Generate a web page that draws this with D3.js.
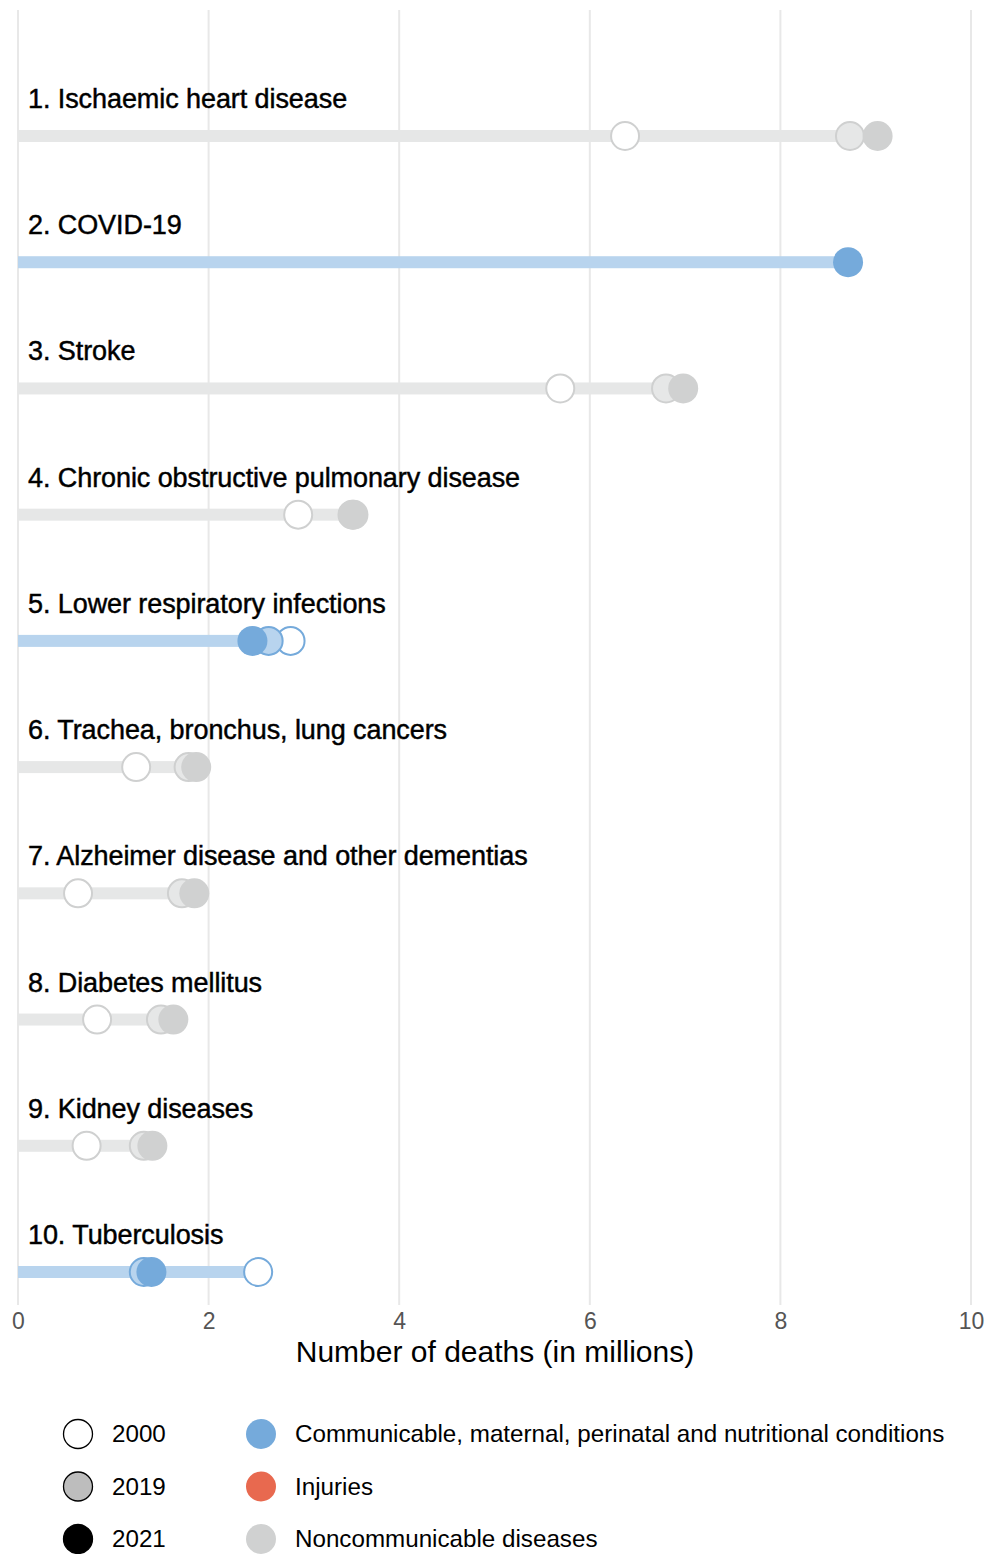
<!doctype html>
<html lang="en">
  <head>
    <meta charset="UTF-8" />
    <title>Top causes of death</title>
    <script src="https://unpkg.com/d3@7.9.0/dist/d3.min.js"></script>
    <style>
      body {
        margin: 0;
        font-family: 'Liberation Sans', Arial, sans-serif;
        background: #fff;
        overflow: hidden;
      }
      .grid line {
        stroke: #e8e8e8;
        stroke-width: 2;
      }
      .tick text {
        font-size: 23px;
        fill: #555;
      }
      .row-label {
        font-size: 27px;
        fill: #000;
        stroke: #000;
        stroke-width: 0.45px;
        letter-spacing: -0.08px;
      }
    </style>
  </head>
  <body>
    <svg width="987" height="1554"></svg>
    <script>
      const causes = [
        '1. Ischaemic heart disease',
        '2. COVID-19',
        '3. Stroke',
        '4. Chronic obstructive pulmonary disease',
        '5. Lower respiratory infections',
        '6. Trachea, bronchus, lung cancers',
        '7. Alzheimer disease and other dementias',
        '8. Diabetes mellitus',
        '9. Kidney diseases',
        '10. Tuberculosis',
      ];
      const groups = ['ncd', 'comm', 'ncd', 'ncd', 'comm', 'ncd', 'ncd', 'ncd', 'ncd', 'comm'];
      const deaths2000 = [6.37, null, 5.69, 2.94, 2.86, 1.24, 0.63, 0.83, 0.72, 2.52];
      const deaths2019 = [8.73, null, 6.8, 3.51, 2.63, 1.79, 1.72, 1.5, 1.32, 1.32];
      const deaths2021 = [9.02, 8.71, 6.98, 3.52, 2.46, 1.87, 1.85, 1.63, 1.41, 1.4];
      const xTicks = [0, 2, 4, 6, 8, 10];

      const palette = {
        comm: { solid: '#75aadb', light: '#b8d4ee' },
        ncd: { solid: '#d0d1d1', light: '#e6e7e7', stroke: '#cfd0d0' },
      };

      const data = causes.map((name, i) => ({
        name,
        group: groups[i],
        v2000: deaths2000[i],
        v2019: deaths2019[i],
        v2021: deaths2021[i],
      }));

      const margin = { top: 10, left: 18, right: 16 },
        plotBottom = 1305;

      const svg = d3.select('svg');
      const g = svg.append('g').attr('transform', `translate(${margin.left},0)`);

      const x = d3.scaleLinear().domain([0, 10]).range([0, 953]);
      const y = d3
        .scalePoint()
        .domain(causes)
        .range([136, 1272]);

      // vertical grid
      g.append('g')
        .attr('class', 'grid')
        .selectAll('line')
        .data(xTicks)
        .join('line')
        .attr('x1', (d) => x(d))
        .attr('x2', (d) => x(d))
        .attr('y1', margin.top)
        .attr('y2', plotBottom);

      // tick labels
      const axis = g
        .append('g')
        .attr('transform', `translate(0,${plotBottom})`)
        .call(d3.axisBottom(x).tickValues(xTicks).tickSize(0).tickPadding(8));
      axis.select('.domain').remove();
      axis.selectAll('.tick text').attr('font-family', null);

      svg
        .append('text')
        .attr('x', 495)
        .attr('y', 1362)
        .attr('text-anchor', 'middle')
        .style('font-size', '30px')
        .text('Number of deaths (in millions)');

      const rows = g
        .selectAll('.row')
        .data(data)
        .join('g')
        .attr('class', 'row')
        .attr('transform', (d) => `translate(0,${y(d.name)})`);

      rows
        .append('text')
        .attr('class', 'row-label')
        .attr('x', 10)
        .attr('y', -28)
        .text((d) => d.name);

      rows
        .append('rect')
        .attr('x', 0)
        .attr('y', -6)
        .attr('height', 12)
        .attr('width', (d) => x(d3.max([d.v2000, d.v2019, d.v2021])))
        .attr('fill', (d) => palette[d.group].light);

      const r = 15;
      const strokeOf = (d) => (d.group === 'comm' ? palette.comm.solid : palette.ncd.stroke);

      rows
        .filter((d) => d.v2000 != null)
        .append('circle')
        .attr('cx', (d) => x(d.v2000))
        .attr('r', r - 1)
        .attr('fill', '#fff')
        .attr('stroke', strokeOf)
        .attr('stroke-width', 2);

      rows
        .filter((d) => d.v2019 != null)
        .append('circle')
        .attr('cx', (d) => x(d.v2019))
        .attr('r', r - 1)
        .attr('fill', (d) => palette[d.group].light)
        .attr('stroke', strokeOf)
        .attr('stroke-width', 2);

      rows
        .append('circle')
        .attr('cx', (d) => x(d.v2021))
        .attr('r', r)
        .attr('fill', (d) => palette[d.group].solid);

      // legend
      const yearLegend = [
        { label: '2000', fill: '#fff' },
        { label: '2019', fill: '#bdbdbd' },
        { label: '2021', fill: '#000' },
      ];
      const groupLegend = [
        { label: 'Communicable, maternal, perinatal and nutritional conditions', fill: '#75aadb' },
        { label: 'Injuries', fill: '#e8694f' },
        { label: 'Noncommunicable diseases', fill: '#d0d1d1' },
      ];
      const legendY = d3.scalePoint().domain([0, 1, 2]).range([1434, 1539]);

      const yl = svg
        .selectAll('.year-legend')
        .data(yearLegend)
        .join('g')
        .attr('class', 'year-legend')
        .attr('transform', (d, i) => `translate(78,${legendY(i)})`);
      yl.append('circle')
        .attr('r', 14.5)
        .attr('fill', (d) => d.fill)
        .attr('stroke', '#000')
        .attr('stroke-width', 1.3);
      yl.append('text')
        .attr('x', 34)
        .attr('dy', '0.35em')
        .style('font-size', '24.2px')
        .text((d) => d.label);

      const gl = svg
        .selectAll('.group-legend')
        .data(groupLegend)
        .join('g')
        .attr('class', 'group-legend')
        .attr('transform', (d, i) => `translate(261,${legendY(i)})`);
      gl.append('circle').attr('r', 15).attr('fill', (d) => d.fill);
      gl.append('text')
        .attr('x', 34)
        .attr('dy', '0.35em')
        .style('font-size', '24.2px')
        .text((d) => d.label);
    </script>
  </body>
</html>
